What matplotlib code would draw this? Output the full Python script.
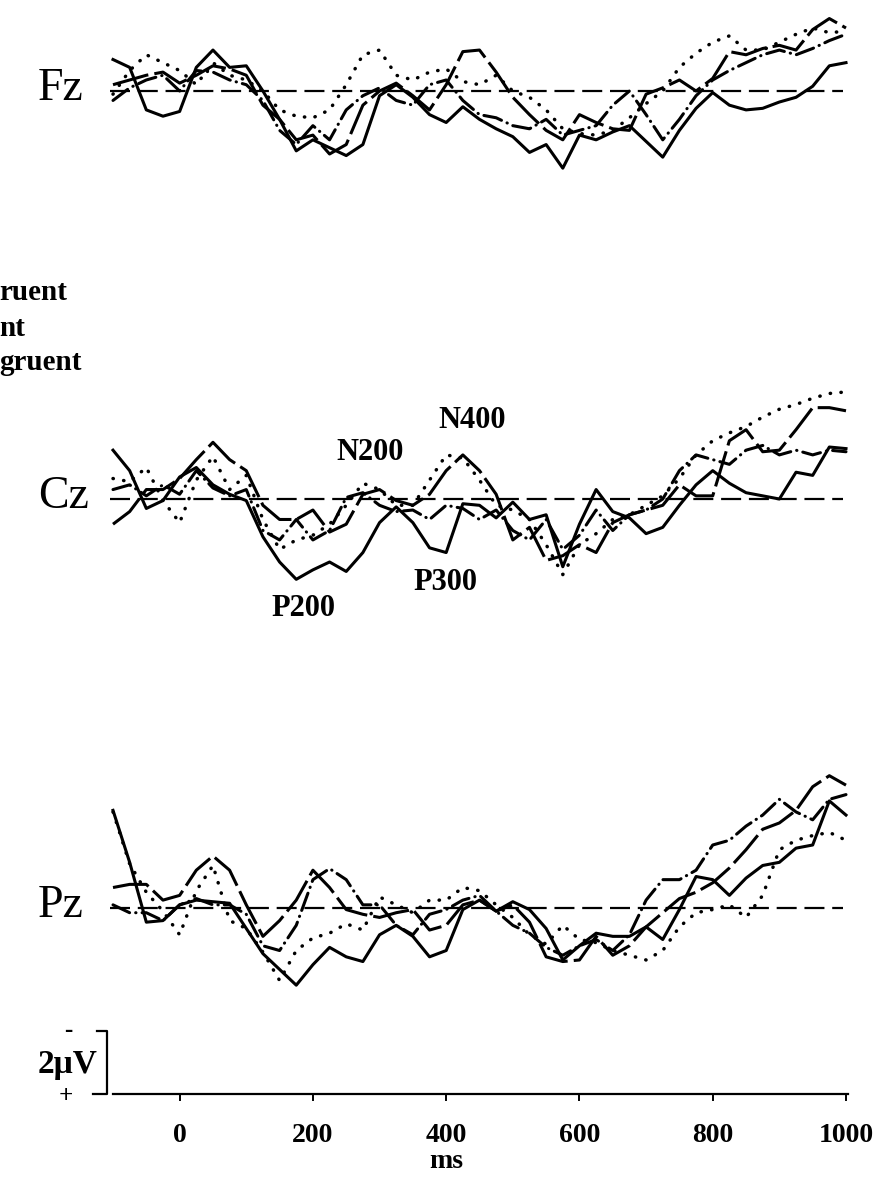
import numpy as np
import matplotlib.pyplot as plt

plt.rcParams['font.family'] = ['Liberation Serif', 'DejaVu Serif']

# time points (ms) and traces (uV, positive plotted downward)
time_ms = [-100, -75, -50, -25, 0, 25, 50, 75, 100, 125, 150, 175, 200, 225, 250,
           275, 300, 325, 350, 375, 400, 425, 450, 475, 500, 525, 550, 575, 600,
           625, 650, 675, 700, 725, 750, 775, 800, 825, 850, 875, 900, 925, 950,
           975, 1000]

fz_solid = [-1.0, -0.75, 0.6, 0.8, 0.65, -0.75, -1.3, -0.75, -0.8, 0.0, 0.9, 1.9,
            1.55, 1.8, 2.05, 1.7, 0.15, -0.2, 0.2, 0.75, 1.0, 0.5, 0.9, 1.2, 1.45,
            1.95, 1.7, 2.45, 1.4, 1.55, 1.3, 1.1, 1.6, 2.1, 1.25, 0.55, 0.05, 0.45,
            0.6, 0.55, 0.35, 0.2, -0.15, -0.8, -0.9]
fz_dot = [0.1, -0.65, -1.15, -0.9, -0.65, -0.2, -0.9, -0.5, -0.35, 0.0, 0.6, 0.8,
          0.85, 0.6, -0.2, -1.15, -1.3, -0.5, -0.35, -0.6, -0.7, -0.3, -0.2, -0.5,
          0.0, 0.2, 0.6, 1.2, 1.35, 1.4, 1.25, 0.85, 0.4, 0.0, -0.75, -1.2, -1.55,
          -1.75, -1.3, -1.3, -1.55, -1.8, -2.0, -1.85, -1.9]
fz_dash = [-0.2, -0.35, -0.5, -0.6, -0.25, -0.5, -0.8, -0.7, -0.5, 0.45, 0.9, 1.55,
           1.4, 2.0, 1.7, 0.45, 0.0, -0.25, 0.15, 0.6, -0.2, -1.25, -1.3, -0.6, 0.2,
           0.75, 1.25, 1.55, 0.75, 1.0, 1.2, 1.25, 0.1, -0.1, -0.35, 0.0, -0.4,
           -1.25, -1.15, -1.35, -1.45, -1.3, -1.95, -2.3, -2.0]
fz_dashdot = [0.3, -0.1, -0.35, -0.5, 0.0, -0.65, -0.6, -0.35, -0.2, 0.3, 1.25, 1.7,
              1.1, 1.55, 0.6, 0.15, -0.1, 0.3, 0.45, -0.2, -0.35, 0.3, 0.75, 0.85,
              1.1, 1.2, 0.9, 1.4, 1.25, 1.1, 0.45, 0.0, 0.75, 1.55, 0.9, 0.15, -0.35,
              -0.65, -0.9, -1.15, -1.3, -1.15, -1.35, -1.6, -1.8]

cz_solid = [-1.55, -0.9, 0.3, 0.05, -0.7, -1.0, -0.45, -0.15, 0.05, 1.2, 2.0, 2.55,
            2.25, 2.0, 2.3, 1.7, 0.75, 0.25, 0.75, 1.55, 1.7, 0.15, 0.2, 0.6, 0.1,
            0.65, 0.5, 2.15, 0.8, -0.3, 0.4, 0.6, 1.1, 0.9, 0.2, -0.45, -0.9, -0.5,
            -0.2, -0.1, 0.0, -0.85, -0.75, -1.65, -1.6]
cz_dot = [-0.65, -0.55, -1.0, 0.05, 0.75, -0.6, -1.35, -0.3, -0.75, 0.65, 1.6, 1.3,
          1.15, 0.8, 0.2, -0.5, -0.3, 0.2, 0.2, -0.6, -1.4, -1.3, -0.6, 0.2, 0.35,
          0.65, 1.45, 2.4, 1.45, 1.1, 0.65, 0.5, 0.2, -0.1, -0.65, -1.4, -1.85,
          -2.1, -2.3, -2.6, -2.85, -3.0, -3.2, -3.35, -3.4]
cz_dash = [0.8, 0.4, -0.3, -0.3, -0.65, -1.25, -1.8, -1.25, -0.9, 0.2, 0.65, 0.65,
           0.35, 1.05, 0.8, -0.15, -0.3, 0.05, 0.2, -0.15, -0.9, -1.4, -0.9, -0.15,
           1.3, 0.9, 1.95, 1.8, 1.45, 1.7, 0.75, 0.5, 0.35, 0.2, -0.45, -0.1, -0.1,
           -1.85, -2.2, -1.5, -1.55, -2.2, -2.9, -2.9, -2.8]
cz_dashdot = [-0.3, -0.45, -0.1, -0.45, -0.15, -0.9, -0.35, -0.1, -0.3, 1.0, 1.3,
              0.65, 1.3, 1.0, -0.05, -0.2, 0.2, 0.4, 0.35, 0.65, 0.2, 0.3, 0.65, 0.35,
              1.0, 1.3, 0.65, 1.6, 1.15, 0.35, 1.0, 0.5, 0.35, 0.0, -0.9, -1.4, -1.25,
              -1.1, -1.55, -1.7, -1.4, -1.55, -1.4, -1.55, -1.5]

pz_solid = [-3.1, -1.45, 0.45, 0.4, -0.1, -0.25, -0.2, -0.15, 0.65, 1.45, 1.95, 2.45,
            1.8, 1.25, 1.55, 1.7, 0.85, 0.55, 0.9, 1.55, 1.35, 0.05, -0.25, 0.1, -0.2,
            0.05, 0.65, 1.65, 1.2, 0.8, 0.9, 0.9, 0.6, 1.0, 0.05, -1.0, -0.9, -0.4,
            -0.95, -1.35, -1.45, -1.9, -2.0, -3.4, -2.95]
pz_dot = [-3.05, -1.4, -0.5, 0.1, 0.85, -0.55, -1.35, 0.4, 0.65, 1.4, 2.3, 1.35,
          0.95, 0.8, 0.5, 0.7, -0.35, -0.1, 0.15, -0.25, -0.25, -0.65, -0.55, -0.1,
          0.3, 0.85, 1.15, 0.55, 1.0, 1.1, 1.35, 1.5, 1.65, 1.35, 0.6, 0.15, 0.05,
          -0.1, 0.3, -0.4, -1.85, -2.15, -2.3, -2.4, -2.15]
pz_dash = [-0.65, -0.75, -0.75, -0.25, -0.4, -1.2, -1.65, -1.2, -0.1, 0.9, 0.4,
           -0.25, -1.2, -0.65, 0.05, 0.2, 0.3, 0.15, 0.05, 0.7, 0.55, -0.1, -0.25,
           0.1, -0.1, 0.45, 1.55, 1.7, 1.65, 0.9, 1.5, 1.2, 0.6, 0.15, -0.3, -0.5,
           -0.8, -1.27, -1.85, -2.5, -2.7, -3.1, -3.85, -4.2, -3.9]
pz_dashdot = [-0.1, 0.15, 0.15, 0.4, -0.1, -0.3, -0.1, -0.1, 0.2, 1.2, 1.35, 0.55,
              -0.9, -1.25, -0.9, -0.1, -0.1, 0.55, 0.85, 0.2, 0.05, -0.25, -0.4, 0.1,
              0.55, 0.8, 1.25, 1.5, 1.2, 1.0, 1.35, 0.85, -0.25, -0.9, -0.9, -1.2,
              -2.0, -2.15, -2.6, -2.95, -3.45, -3.05, -2.8, -3.45, -3.6]

channels = ['Fz', 'Cz', 'Pz']
traces = {
    'Fz': [fz_solid, fz_dot, fz_dash, fz_dashdot],
    'Cz': [cz_solid, cz_dot, cz_dash, cz_dashdot],
    'Pz': [pz_solid, pz_dot, pz_dash, pz_dashdot],
}
tick_ms = [0, 200, 400, 600, 800, 1000]
legend_bits = ['ruent', 'nt', 'gruent']

# layout in pixels of the 883x1179 page
W, H = 883, 1179
PX_MS = 733 / 1100
PX_UV = 31.5
X0 = -100 - 113 / PX_MS
baseline_px = {'Fz': 91, 'Cz': 499, 'Pz': 908}
axis_px = 1094

def to_data(x, y):
    return X0 + x / PX_MS, y / PX_UV

fig = plt.figure(figsize=(W / 100, H / 100), dpi=100)
ax = fig.add_axes([0, 0, 1, 1])
ax.set_xlim(X0, X0 + W / PX_MS)
ax.set_ylim(H / PX_UV, 0)
ax.axis('off')

styles = [
    dict(linestyle='-', lw=2.2),
    dict(linestyle=(0, (0.1, 3.0)), lw=2.5, dash_capstyle='round'),
    dict(linestyle=(0, (12, 2.0)), lw=2.2),
    dict(linestyle=(0, (6, 2, 0.1, 2)), lw=2.2, dash_capstyle='round'),
]

t = np.array(time_ms)
for ch in channels:
    off = baseline_px[ch] / PX_UV
    ax.plot([-105, 995], [off, off], color='black', lw=1.6,
            linestyle=(0, (9, 3.5)))
    for vals, st in zip(traces[ch], styles):
        ax.plot(t, off + np.array(vals), color='black',
                solid_joinstyle='round', **st)
    lx, ly = to_data(38, baseline_px[ch] - 2)
    ax.text(lx, ly, ch, fontsize=33, ha='left', va='center')

# time axis
ay = axis_px / PX_UV
ax.plot([-100, 1003], [ay, ay], color='black', lw=1.6)
for tk in tick_ms:
    ax.plot([tk, tk], [ay, ay + 6 / PX_UV], color='black', lw=1.4)
    ax.text(tk, 1135 / PX_UV, str(tk), fontsize=20, fontweight='bold',
            ha='center', va='center')
mx, my = to_data(446, 1161)
ax.text(mx, my, 'ms', fontsize=20, fontweight='bold', ha='center', va='center')

# 2 uV calibration bracket
bx, _ = to_data(107, 0)
tx, _ = to_data(97, 0)
bx2, _ = to_data(93, 0)
ax.plot([tx, bx, bx, bx2], [ay - 2, ay - 2, ay, ay], color='black', lw=1.6)
cx, cy = to_data(68, 1064)
ax.text(cx, cy, '2\u03bcV', fontsize=24, fontweight='bold', ha='center', va='center')
ax.text(cx, 1030 / PX_UV, '-', fontsize=18, fontweight='bold', ha='center', va='center')
ax.text(cx - 2 / PX_MS, 1096 / PX_UV, '+', fontsize=18, fontweight='bold',
        ha='center', va='center')

# component labels at Cz
for name, x, y in [('N200', 370, 453), ('N400', 472, 420),
                   ('P200', 303, 608), ('P300', 445, 582)]:
    px_, py_ = to_data(x, y)
    ax.text(px_, py_, name, fontsize=22, fontweight='bold', ha='center', va='center')

# legend text, cut at the left edge of the page
for txt, y in zip(legend_bits, [292, 328, 363]):
    lx, ly = to_data(-1, y)
    ax.text(lx, ly, txt, fontsize=21, fontweight='bold', ha='left', va='center')

fig.savefig('out.png', dpi=100)
